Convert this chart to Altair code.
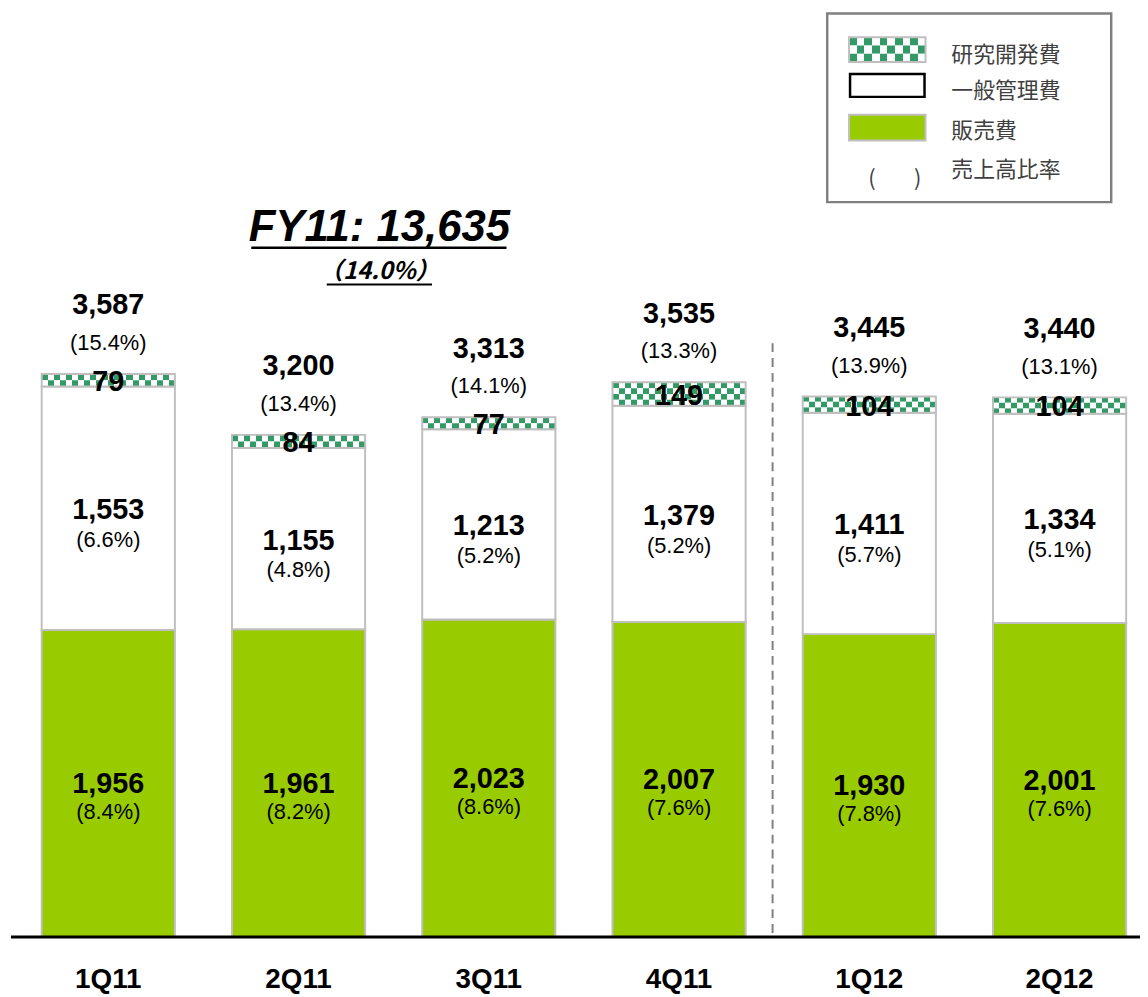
import altair as alt
import pandas as pd

# ---------------- data ----------------
quarters = ["1Q11", "2Q11", "3Q11", "4Q11", "1Q12", "2Q12"]
sales = [1956, 1961, 2023, 2007, 1930, 2001]        # 販売費
admin = [1553, 1155, 1213, 1379, 1411, 1334]        # 一般管理費
rnd = [79, 84, 77, 149, 104, 104]                   # 研究開発費
totals = [3587, 3200, 3313, 3535, 3445, 3440]
total_pct = ["(15.4%)", "(13.4%)", "(14.1%)", "(13.3%)", "(13.9%)", "(13.1%)"]
admin_pct = ["(6.6%)", "(4.8%)", "(5.2%)", "(5.2%)", "(5.7%)", "(5.1%)"]
sales_pct = ["(8.4%)", "(8.2%)", "(8.6%)", "(7.6%)", "(7.8%)", "(7.6%)"]
fy_title = "FY11: 13,635"
fy_pct = "（14.0%）"
legend_labels = ["研究開発費", "一般管理費", "販売費", "売上高比率"]

GREEN = "#99CC00"
CHECK = "#339966"
EDGE = "#BFBFBF"
FONT = "Liberation Sans"
JP = "Noto Sans CJK JP"

W, H = 1140, 989

rows = []
for i, q in enumerate(quarters):
    s, a, r = sales[i], admin[i], rnd[i]
    rows.append(dict(
        q=q, zero=0, s_top=s, a_top=s + a, r_top=s + a + r,
        s_mid=s / 2, a_mid=s + a / 2, r_mid=s + a + r / 2,
        tot=totals[i], tot_lbl=f"{totals[i]:,}", tot_pct=total_pct[i],
        a_lbl=f"{a:,}", a_pct=admin_pct[i], s_lbl=f"{s:,}", s_pct=sales_pct[i],
        r_lbl=f"{r:,}",
    ))
df = pd.DataFrame(rows)

# rows of the checkered R&D segment (split of the value, ~6px each)
chk = []
for i, q in enumerate(quarters):
    base_v = sales[i] + admin[i]
    n = max(2, round(rnd[i] * 0.158 / 6))
    for k in range(n):
        chk.append(dict(q=q, y0=base_v + rnd[i] * (n - k - 1) / n,
                        y1=base_v + rnd[i] * (n - k) / n, phase=k % 2))
chk_df = pd.DataFrame(chk)


def stripes(n, start_green):
    stops = []
    for i in range(n):
        c = CHECK if ((i % 2 == 0) == start_green) else "white"
        stops.append({"offset": i / n, "color": c})
        stops.append({"offset": (i + 1) / n, "color": c})
    return {"gradient": "linear", "x1": 0, "x2": 1, "y1": 0, "y2": 0, "stops": stops}


yscale = alt.Scale(domain=[-360.8, 5898.7], nice=False, zero=False)
xscale = alt.Scale(domain=quarters, range=[5.2, 1154.8], paddingInner=0.3,
                   paddingOuter=0.15, round=False)
X = alt.X("q:N", scale=xscale, axis=None, sort=quarters)

base = alt.Chart(df)

sales_bar = base.mark_rect(fill=GREEN, stroke=EDGE, strokeWidth=2).encode(
    x=X, y=alt.Y("zero:Q", scale=yscale, axis=None), y2="s_top:Q")
admin_bar = base.mark_rect(fill="white", stroke=EDGE, strokeWidth=2).encode(
    x=X, y=alt.Y("s_top:Q", scale=yscale, axis=None), y2="a_top:Q")

chk_layers = []
for ph in (0, 1):
    sub = chk_df[chk_df.phase == ph]
    chk_layers.append(alt.Chart(sub).mark_rect(fill=stripes(22, ph == 0)).encode(
        x=X, y=alt.Y("y0:Q", scale=yscale, axis=None), y2="y1:Q"))
rnd_outline = base.mark_rect(fill="white", fillOpacity=0, stroke=EDGE, strokeWidth=2).encode(
    x=X, y=alt.Y("a_top:Q", scale=yscale, axis=None), y2="r_top:Q")


def txt(text_field, y_field, dy, size, weight):
    return base.mark_text(dy=dy, fontSize=size, fontWeight=weight, font=FONT,
                          color="black", baseline="middle", align="center").encode(
        x=X, y=alt.Y(f"{y_field}:Q", scale=yscale, axis=None), text=f"{text_field}:N")


NUM = 29
PCT = 22
labels = [
    txt("tot_lbl", "r_top", -69, NUM, "bold"),
    txt("tot_pct", "r_top", -31, PCT, "normal"),
    txt("r_lbl", "r_mid", 2, NUM, "bold"),
    txt("a_lbl", "a_mid", 2, NUM, "bold"),
    txt("a_pct", "a_mid", 32, PCT, "normal"),
    txt("s_lbl", "s_mid", 1, NUM, "bold"),
    txt("s_pct", "s_mid", 29, PCT, "normal"),
]

xlabels = base.mark_text(fontSize=28, fontWeight="bold", font=FONT, color="black",
                         baseline="middle").encode(x=X, y=alt.value(975), text="q:N")

one = pd.DataFrame({"a": [0]})
axis_line = alt.Chart(one).mark_rule(color="black", strokeWidth=3).encode(
    x=alt.value(3), x2=alt.value(1140), y=alt.value(932))
divider = alt.Chart(one).mark_rule(color="#808080", strokeWidth=2, strokeDash=[9, 6]).encode(
    x=alt.value(770), y=alt.value(334), y2=alt.value(932))

title_t = alt.Chart(one).mark_text(text=fy_title, fontSize=44, fontWeight="bold", fontStyle="italic",
                                   font=FONT, color="black", baseline="middle").encode(
    x=alt.value(374), y=alt.value(218))
title_u = alt.Chart(one).mark_rule(color="black", strokeWidth=2.5).encode(
    x=alt.value(245), x2=alt.value(502), y=alt.value(238))
sub_t = alt.Chart(one).mark_text(text=fy_pct, fontSize=24, fontWeight="bold", fontStyle="italic",
                                 font=JP, color="black", baseline="middle").encode(
    x=alt.value(374), y=alt.value(262))
sub_u = alt.Chart(one).mark_rule(color="black", strokeWidth=2).encode(
    x=alt.value(321), x2=alt.value(427), y=alt.value(275))

# ---------------- legend ----------------
leg_box = alt.Chart(one).mark_rect(fill="white", stroke="#808080", strokeWidth=2.5).encode(
    x=alt.value(825), x2=alt.value(1111), y=alt.value(2), y2=alt.value(192))
leg_chk = []
for k in range(3):
    leg_chk.append(alt.Chart(one).mark_rect(fill=stripes(10, k % 2 == 0)).encode(
        x=alt.value(847), x2=alt.value(924), y=alt.value(26 + k * 25 / 3), y2=alt.value(26 + (k + 1) * 25 / 3)))
leg_chk_edge = alt.Chart(one).mark_rect(fillOpacity=0, stroke=EDGE, strokeWidth=2).encode(
    x=alt.value(847), x2=alt.value(924), y=alt.value(26), y2=alt.value(51))
leg_admin = alt.Chart(one).mark_rect(fill="white", stroke="black", strokeWidth=2.5).encode(
    x=alt.value(848), x2=alt.value(923), y=alt.value(63), y2=alt.value(86))
leg_sales = alt.Chart(one).mark_rect(fill=GREEN, stroke=EDGE, strokeWidth=2).encode(
    x=alt.value(847), x2=alt.value(924), y=alt.value(104), y2=alt.value(130))
leg_texts = []
for lbl, yy in zip(legend_labels, [44, 80, 120, 160]):
    leg_texts.append(alt.Chart(one).mark_text(text=lbl, fontSize=22, font=JP, color="#404040",
                                              align="left", baseline="middle").encode(
        x=alt.value(950), y=alt.value(yy)))
for ch, xx in (("(", 870), (")", 916)):
    leg_texts.append(alt.Chart(one).mark_text(text=ch, fontSize=22, font=JP, color="#404040",
                                              align="center", baseline="middle").encode(
        x=alt.value(xx), y=alt.value(169)))

chart = alt.layer(
    sales_bar, admin_bar, *chk_layers, rnd_outline, *labels, xlabels,
    axis_line, divider, title_t, title_u, sub_t, sub_u,
    leg_box, *leg_chk, leg_chk_edge, leg_admin, leg_sales, *leg_texts,
).properties(
    width=W, height=H, padding=0, background="white",
    autosize=alt.AutoSizeParams(type="none"),
).configure_view(stroke=None)

chart.save("out.html", embed_options={"renderer": "svg", "actions": False})
